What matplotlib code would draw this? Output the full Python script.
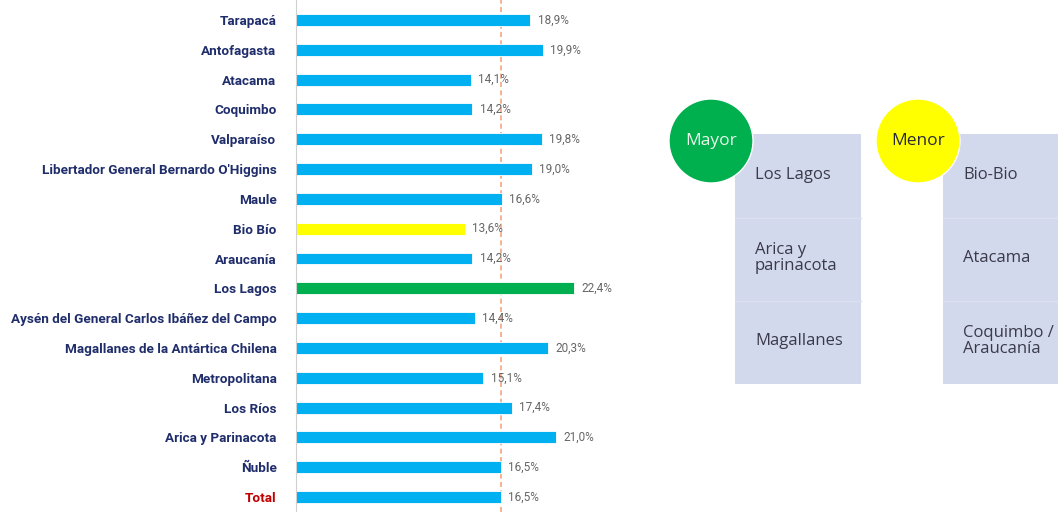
import matplotlib.pyplot as plt
from matplotlib.patches import Rectangle, Circle

regiones = ["Tarapacá", "Antofagasta", "Atacama", "Coquimbo", "Valparaíso",
            "Libertador General Bernardo O'Higgins", "Maule", "Bio Bío",
            "Araucanía", "Los Lagos", "Aysén del General Carlos Ibáñez del Campo",
            "Magallanes de la Antártica Chilena", "Metropolitana", "Los Ríos",
            "Arica y Parinacota", "Ñuble", "Total"]
valores = [18.9, 19.9, 14.1, 14.2, 19.8, 19.0, 16.6, 13.6, 14.2, 22.4,
           14.4, 20.3, 15.1, 17.4, 21.0, 16.5, 16.5]
mayor = ["Los Lagos", "Arica y\nparinacota", "Magallanes"]
menor = ["Bio-Bio", "Atacama", "Coquimbo /\nAraucanía"]
promedio = 16.5

W, H = 1058, 512
fig = plt.figure(figsize=(W / 100, H / 100), dpi=100)

# bar chart
ax = fig.add_axes([296 / W, 0, 304 / W, 1])
colores = []
for r in regiones:
    if r == "Los Lagos":
        colores.append("#00b050")
    elif r == "Bio Bío":
        colores.append("#ffff00")
    else:
        colores.append("#00b0f0")
y = list(range(len(regiones)))
ax.barh(y, valores, height=0.4, color=colores, edgecolor="white", linewidth=0.6)
ax.set_ylim(16.5, -0.67)
ax.set_xlim(0, 304 / 12.4)
ax.axvline(promedio, color="#f4a582", linestyle=(0, (3, 2)), linewidth=1.2, zorder=0)
for i, v in enumerate(valores):
    ax.text(v + 0.6, i, ("%.1f%%" % v).replace(".", ","), va="center", ha="left",
            fontsize=8.5, color="#666666", family="Roboto")
ax.set_yticks(y)
ax.set_yticklabels(regiones, fontsize=9.7, fontweight="bold", family="Roboto")
for lbl, r in zip(ax.get_yticklabels(), regiones):
    lbl.set_color("#c00000" if r == "Total" else "#1f2d6b")
ax.tick_params(axis="y", length=0, pad=14)
ax.set_xticks([])
for s in ["top", "right", "bottom"]:
    ax.spines[s].set_visible(False)
ax.spines["left"].set_color("#d0d0d0")
ax.patch.set_alpha(0)

# side panel in pixel coordinates
px = fig.add_axes([0, 0, 1, 1], zorder=3)
px.set_xlim(0, W)
px.set_ylim(H, 0)
px.axis("off")
px.patch.set_alpha(0)

def panel(x0, cx, titulo, color_c, color_t, items):
    px.add_patch(Rectangle((x0, 134), 126, 250, facecolor="#d3d9ec", edgecolor="none"))
    for k in (1, 2):
        px.plot([x0, x0 + 126], [134 + k * 83.5] * 2, color="#dde2f1", linewidth=1)
    px.add_patch(Circle((cx, 141), 42, facecolor=color_c, edgecolor="white", linewidth=1))
    px.text(cx, 141, titulo, ha="center", va="center", fontsize=12.5, color=color_t,
            family="Open Sans")
    for k, t in enumerate(items):
        px.text(x0 + 20, 175 + k * 83, t, ha="left", va="center", fontsize=12,
                color="#3a3a4a", family="Open Sans", linespacing=0.95)

panel(735, 711, "Mayor", "#00b04f", "#e8f5e8", mayor)
panel(943, 918, "Menor", "#ffff00", "#2a2a3a", menor)

fig.savefig("out.png", dpi=100)
